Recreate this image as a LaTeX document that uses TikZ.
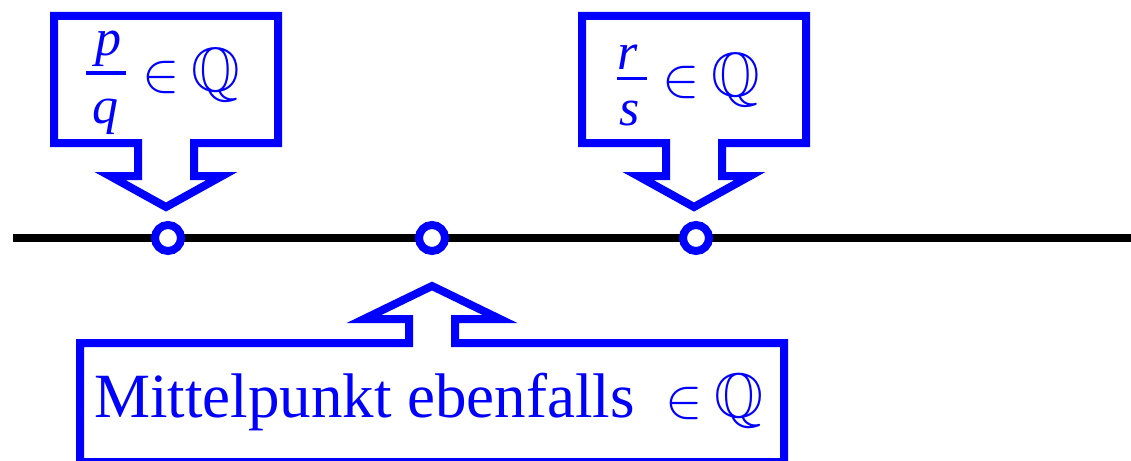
\RequirePackage{fix-cm}
\documentclass[tikz,border=0pt]{standalone}
\usepackage{amsmath}
\usepackage{amssymb}
\usepackage{fontspec}
\setmainfont{Liberation Serif}
\newcommand{\inQ}{\mbox{\fontsize{56}{60}\selectfont$\in$}\hspace{11.5pt}$\mathbb{Q}$}
\definecolor{cblue}{RGB}{0,0,255}
\tikzset{
  callout/.style={draw=cblue, line width=8pt, line join=miter, fill=white},
  dot/.style={circle, draw=cblue, line width=8pt, fill=white, minimum size=26pt, inner sep=0pt},
  axisline/.style={line width=8.5pt, black},
  lbl/.style={text=cblue, inner sep=0pt, font=\fontsize{62.5}{74}\selectfont},
  fracl/.style={text=cblue, inner sep=0pt, anchor=base, font=\fontsize{52}{60}\selectfont\itshape},
  fracbar/.style={draw=cblue, line width=#1},
}
\begin{document}
\begin{tikzpicture}[x=1pt,y=-1pt]
\useasboundingbox (0,0) rectangle (1131,460);
% number line
\coordinate (L) at (13,238);
\coordinate (R) at (1135,238);
\draw[axisline] (L) -- (R);
\node[dot] (d1) at (168,238) {};
\node[dot] (d2) at (432,238) {};
\node[dot] (d3) at (696,238) {};
% callouts
\draw[callout] (54,16) -- (278,16) -- (278,143) -- (194,143) -- (194,176) -- (222,176)
  -- (166,207) -- (110,176) -- (138,176) -- (138,143) -- (54,143) -- cycle;
\draw[callout] (582,16) -- (806,16) -- (806,143) -- (722,143) -- (722,176) -- (750,176)
  -- (694,207) -- (638,176) -- (666,176) -- (666,143) -- (582,143) -- cycle;
\draw[callout] (80,462) -- (80,343) -- (409,343) -- (409,319) -- (364,319) -- (432,286)
  -- (500,319) -- (455,319) -- (455,343) -- (784,343) -- (784,462) -- cycle;
% fraction p/q
\node[fracl] (p) at (108,56) {p};
\node[fracl] (q) at (105,123) {q};
\coordinate (b1l) at (86,73);
\coordinate (b1r) at (126,73);
\draw[fracbar=4pt] (b1l) -- (b1r);
\node[lbl, anchor=base west] (t1) at (142,91) {\inQ};
% fraction r/s
\node[fracl] (r) at (628,69) {r};
\node[fracl] (s) at (630,125) {s};
\coordinate (b2l) at (617,78.5);
\coordinate (b2r) at (647,78.5);
\draw[fracbar=3.6pt] (b2l) -- (b2r);
\node[lbl, anchor=base west] (t2) at (662,96) {\inQ};
% bottom label
\node[lbl, anchor=base west, font=\fontsize{63}{74}\selectfont] (t3) at (94,417)
  {Mittelpunkt ebenfalls\hspace{31pt}\inQ};
\end{tikzpicture}
\end{document}
